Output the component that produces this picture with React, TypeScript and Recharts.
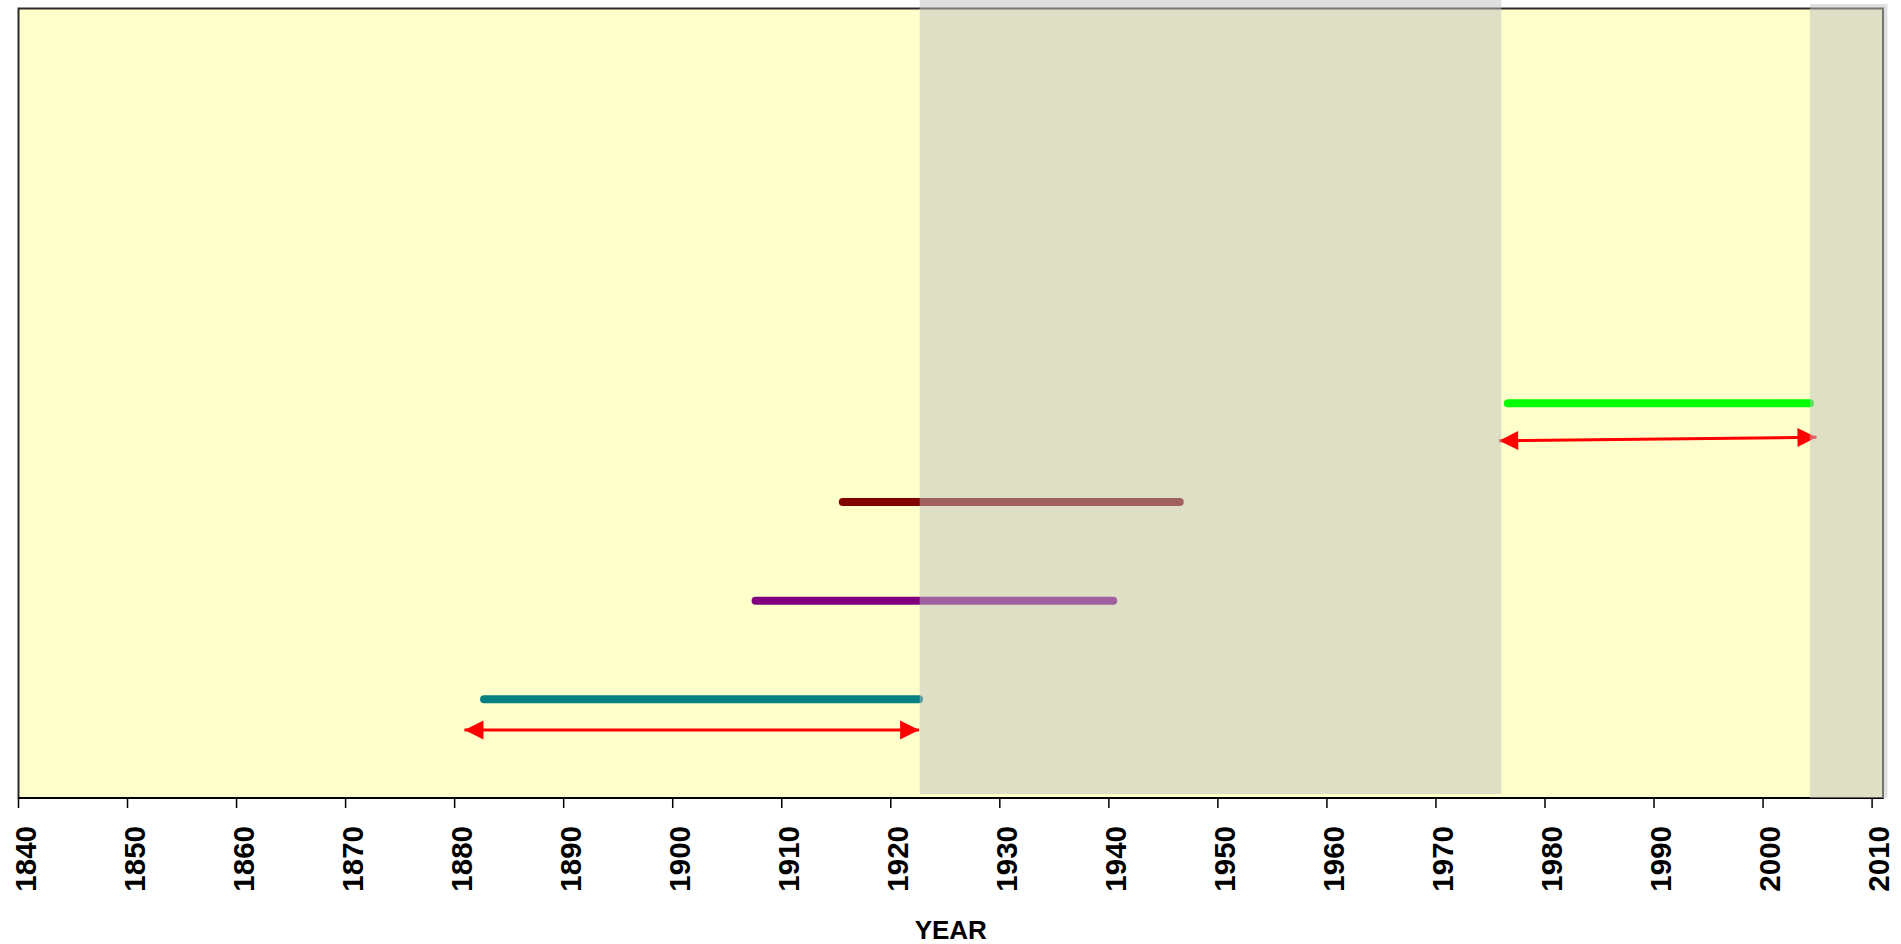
import { ComposedChart, Line, XAxis, YAxis, ReferenceArea } from 'recharts';

// tick labels along the year axis
const yearTicks = [1840, 1850, 1860, 1870, 1880, 1890, 1900, 1910, 1920, 1930, 1940, 1950, 1960, 1970, 1980, 1990, 2000, 2010];

// thick period bars
const barColors = ['#008080', '#800080', '#800000', '#00FF00'];
const barStarts = [1882.7, 1907.6, 1915.6, 1976.6];
const barEnds = [1922.6, 1940.4, 1946.5, 2004.3];
const barLevels = [1, 2, 3, 4];

// red double-headed arrows
const arrowStarts = [1880.9, 1975.8];
const arrowEnds = [1922.6, 2004.9];
const arrowStartLevels = [0.69, 3.62];
const arrowEndLevels = [0.69, 3.655];

// grey shaded periods
const bandStarts = [1922.65, 2004.3];
const bandEnds = [1976.0, 2011.4];
const bandBottoms = [0.04, 0];
const bandTops = [8.086, 8.046];

const FONT = '"Liberation Sans", Arial, sans-serif';

const bars = barColors.map((color, i) => ({
  color,
  data: [
    { x: barStarts[i], y: barLevels[i] },
    { x: barEnds[i], y: barLevels[i] },
  ],
}));

const arrows = arrowStarts.map((start, i) => [
  { x: start, y: arrowStartLevels[i] },
  { x: arrowEnds[i], y: arrowEndLevels[i] },
]);

const YearTick = ({ x, y, payload }: any) => {
  const ax = x + 7;
  const ay = y + 18;
  return (
    <text
      x={ax}
      y={ay}
      transform={`rotate(-90, ${ax}, ${ay})`}
      textAnchor="end"
      dy="0.35em"
      fontFamily={FONT}
      fontWeight="bold"
      fontSize={29.5}
      fill="#000"
    >
      {payload.value}
    </text>
  );
};

const ArrowHead = (props: any) => {
  const { cx, cy, index, points } = props;
  if (cx == null || cy == null) return <g />;
  let ang = index === 0 ? Math.PI : 0;
  if (points && points.length === 2) {
    const other = points[index === 0 ? 1 : 0];
    ang = Math.atan2(cy - other.y, cx - other.x);
  }
  const len = 19;
  const half = 9.5;
  const bx = cx - len * Math.cos(ang);
  const by = cy - len * Math.sin(ang);
  const px = -Math.sin(ang) * half;
  const py = Math.cos(ang) * half;
  return (
    <polygon
      key={`ah-${index}`}
      points={`${cx},${cy} ${bx + px},${by + py} ${bx - px},${by - py}`}
      fill="#FF0000"
    />
  );
};

const YearLabel = (props: any) => {
  const vb = props.viewBox || { x: 0, y: 0, width: 0 };
  return (
    <text
      x={vb.x + vb.width / 2}
      y={vb.y + 140.5}
      textAnchor="middle"
      fontFamily={FONT}
      fontWeight="bold"
      fontSize={26}
      fill="#000"
    >
      YEAR
    </text>
  );
};

const App = () => {
  return (
    <div style={{ position: 'absolute', left: 0, top: 0, width: 1901, height: 944, overflow: 'hidden' }}>
      <ComposedChart width={1901} height={944} margin={{ top: 8.5, right: 18, left: 18.5, bottom: 0 }}>
        <ReferenceArea
          x1={1840}
          x2={2011}
          y1={0}
          y2={8}
          fill="#FFFFCC"
          fillOpacity={1}
          stroke="#2a2a2a"
          strokeWidth={2}
          zIndex={-10}
        />
        <XAxis
          type="number"
          dataKey="x"
          domain={[1840, 2011]}
          ticks={yearTicks}
          allowDataOverflow
          interval={0}
          height={146}
          tickSize={10}
          tickMargin={0}
          axisLine={{ stroke: '#000', strokeWidth: 2 }}
          tickLine={{ stroke: '#000', strokeWidth: 1.5 }}
          tick={<YearTick />}
          label={{ content: <YearLabel /> }}
        />
        <YAxis type="number" domain={[0, 8]} hide />
        {bars.map((b, i) => (
          <Line
            key={`bar-${i}`}
            data={b.data}
            dataKey="y"
            stroke={b.color}
            strokeWidth={8}
            strokeLinecap="round"
            dot={false}
            activeDot={false}
            isAnimationActive={false}
          />
        ))}
        {arrows.map((a, i) => (
          <Line
            key={`arrow-${i}`}
            data={a}
            dataKey="y"
            stroke="#FF0000"
            strokeWidth={3}
            dot={<ArrowHead />}
            activeDot={false}
            isAnimationActive={false}
          />
        ))}
        {bandStarts.map((s, i) => (
          <ReferenceArea
            key={`band-${i}`}
            x1={s}
            x2={bandEnds[i]}
            y1={bandBottoms[i]}
            y2={bandTops[i]}
            ifOverflow="visible"
            fill="#BFBFBF"
            fillOpacity={0.5}
            stroke="none"
            zIndex={1000}
          />
        ))}
      </ComposedChart>
    </div>
  );
};

export default App;
